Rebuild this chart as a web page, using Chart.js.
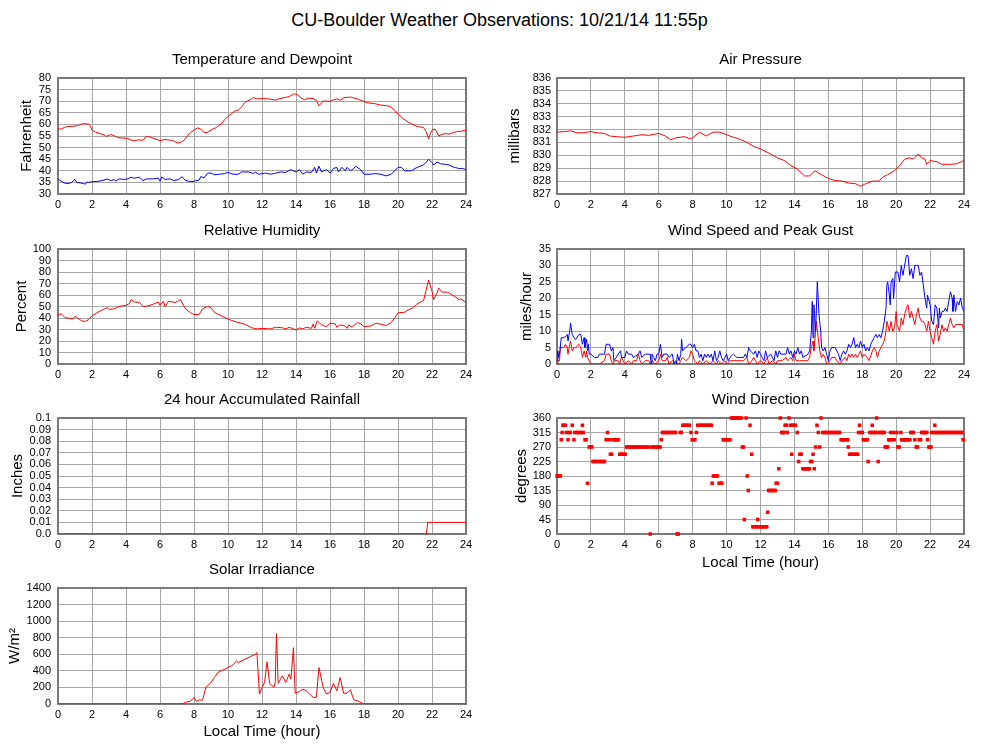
<!DOCTYPE html>
<html>
<head>
<meta charset="utf-8">
<title>CU-Boulder Weather Observations</title>
<script src="https://cdn.jsdelivr.net/npm/chart.js@4.4.1/dist/chart.umd.min.js"></script>
<style>
    body { margin: 0; background: #fff; }
    #page { position: relative; width: 999px; height: 744px; overflow: hidden; font-family: 'Liberation Sans', Arial, sans-serif; }
    #page h1 { position: absolute; left: 0; top: 8px; width: 999px; margin: 0; text-align: center; font-size: 18px; font-weight: normal; line-height: 24px; color: #000; }
    canvas { position: absolute; }
</style>
</head>
<body>
<div id="page">
    <h1>CU-Boulder Weather Observations: 10/21/14 11:55p</h1>
    <canvas id="tempChart" width="480" height="169" style="left:0;top:50px"></canvas>
    <canvas id="pressureChart" width="480" height="169" style="left:500px;top:50px"></canvas>
    <canvas id="humidityChart" width="480" height="168" style="left:0;top:221px"></canvas>
    <canvas id="windChart" width="480" height="168" style="left:500px;top:221px"></canvas>
    <canvas id="rainChart" width="480" height="169" style="left:0;top:390px"></canvas>
    <canvas id="dirChart" width="480" height="184" style="left:500px;top:390px"></canvas>
    <canvas id="solarChart" width="480" height="184" style="left:0;top:560px"></canvas>
</div>
<script>
// -------------------------------------------------------------------------- Document variables

let red = '#ff0000'
let blue = '#0000ff'
let gridGrey = '#a6a6a6'
let frameGrey = '#7a7a7a'
let font = "'Liberation Sans', Arial, sans-serif"

const hourTicks = [0, 2, 4, 6, 8, 10, 12, 14, 16, 18, 20, 22, 24]

// -------------------------------------------------------------------------- Data  [hour, value]

const temperature = [
    [0, 58], [0.2, 58], [0.4, 58.8], [0.6, 59.1], [1.0, 59.3], [1.2, 59.5], [1.4, 60.2], [1.6, 60.3],
    [1.8, 60.1], [1.9, 59.4], [2.0, 57.6], [2.2, 56.7], [2.5, 56], [2.7, 55.5], [2.85, 54.8], [3.1, 55.6],
    [3.3, 55.2], [3.5, 54.3], [3.8, 54.1], [4.1, 54], [4.3, 53.2], [4.5, 53], [4.7, 53.3], [5.0, 53.2],
    [5.2, 54.8], [5.4, 54.6], [5.7, 53.8], [6.0, 53], [6.3, 53.5], [6.6, 53.2], [6.8, 52.8], [7.0, 52],
    [7.2, 52.2], [7.4, 53], [7.6, 55], [7.8, 56.5], [8.0, 57.5], [8.2, 58.5], [8.4, 58], [8.6, 56.4],
    [8.8, 56.6], [9.0, 57.6], [9.3, 58.6], [9.6, 60.2], [9.8, 62], [10.0, 63.5], [10.2, 64.5], [10.4, 65.8],
    [10.6, 66], [10.8, 67.6], [11.0, 69.5], [11.3, 70.6], [11.5, 71.6], [11.7, 71], [12.0, 71.1], [12.4, 71],
    [12.8, 70.5], [13.0, 71], [13.3, 71.5], [13.6, 72], [13.9, 73.2], [14.1, 72.7], [14.3, 71.4], [14.5, 70.6],
    [14.7, 71.3], [15.0, 71.2], [15.2, 70.4], [15.35, 68], [15.6, 70.1], [16.0, 69.9], [16.2, 70.6], [16.4, 71],
    [16.6, 70.4], [16.8, 71.5], [17.2, 71.8], [17.6, 71], [17.9, 70.2], [18.2, 69.3], [18.6, 69], [19.0, 68.3],
    [19.4, 68], [19.6, 67.5], [19.8, 66], [20.0, 64.5], [20.3, 62.5], [20.6, 61], [20.9, 59.8], [21.2, 59],
    [21.5, 58.7], [21.65, 57], [21.8, 53.8], [21.9, 56], [22.05, 58], [22.2, 57.8], [22.4, 55], [22.6, 55.8],
    [22.8, 56], [23.0, 55.8], [23.2, 56.3], [23.5, 57], [23.7, 57], [24, 57.5]
]

const dewpoint = [
    [0, 36.5], [0.1, 36], [0.3, 35], [0.45, 34.6], [0.6, 34.5], [0.8, 35], [1.0, 36.3], [1.1, 35],
    [1.3, 34.8], [1.5, 34.5], [1.6, 34.2], [1.7, 35.2], [1.8, 35], [2.0, 35.3], [2.4, 35.5], [2.7, 36],
    [2.9, 36.5], [3.1, 35.8], [3.3, 36.2], [3.4, 35.6], [3.6, 36.5], [3.9, 36.3], [4.1, 36.5], [4.3, 37.3],
    [4.45, 36.8], [4.6, 37], [4.8, 37.2], [5.0, 35.8], [5.2, 36.5], [5.6, 36.5], [5.9, 36.8], [6.0, 35.5],
    [6.1, 37.3], [6.3, 36.3], [6.6, 36.5], [6.8, 35.8], [7.1, 36.2], [7.3, 37.5], [7.5, 35.8], [7.8, 35.3],
    [8.0, 35.5], [8.3, 36], [8.4, 37.5], [8.6, 37], [8.8, 39], [9.0, 39], [9.2, 38.3], [9.5, 38.5],
    [9.8, 38.8], [10.0, 39.3], [10.3, 38.5], [10.6, 38.5], [10.8, 39.5], [11.2, 39.5], [11.5, 38.8], [11.6, 39.5],
    [11.8, 38.5], [12.2, 39], [12.5, 38.5], [12.8, 39], [13.1, 39.5], [13.4, 39.3], [13.7, 40.5], [14.0, 39.5],
    [14.2, 40.5], [14.4, 38.5], [14.6, 39.5], [14.9, 39.3], [15.1, 41.5], [15.2, 39], [15.35, 42], [15.5, 39.5],
    [15.8, 40.5], [16.0, 39], [16.2, 41], [16.4, 41.5], [16.5, 39.5], [16.7, 41.5], [16.9, 40], [17.0, 41.5],
    [17.2, 40], [17.4, 41], [17.5, 42], [17.8, 40.5], [18.0, 38.5], [18.3, 38.5], [18.7, 38.8], [19.0, 38.5],
    [19.3, 37.8], [19.6, 38.5], [19.8, 40], [20.0, 41.5], [20.2, 41.5], [20.4, 40], [20.8, 40], [21.0, 41],
    [21.3, 42], [21.5, 42.5], [21.7, 44], [21.8, 45], [22.0, 43.5], [22.1, 42.5], [22.3, 43.8], [22.5, 43],
    [22.8, 42.8], [23.0, 42.5], [23.3, 41.5], [23.6, 41], [23.8, 41], [24, 40.5]
]

const pressure = [
    [0, 831.8], [0.5, 831.85], [0.8, 831.9], [1.2, 831.75], [1.6, 831.75], [2.0, 831.85], [2.3, 831.75], [2.8, 831.7],
    [3.1, 831.5], [3.5, 831.45], [4.0, 831.4], [4.5, 831.5], [5.0, 831.6], [5.4, 831.55], [5.8, 831.65], [6.0, 831.7],
    [6.4, 831.5], [6.7, 831.2], [7.0, 831.35], [7.5, 831.45], [7.8, 831.3], [8.0, 831.35], [8.4, 831.8], [8.8, 831.5],
    [9.2, 831.8], [9.6, 831.8], [10.0, 831.6], [10.4, 831.4], [10.7, 831.3], [11.2, 831.0], [11.6, 830.7], [12.0, 830.5],
    [12.6, 830.1], [13.0, 829.8], [13.4, 829.6], [13.8, 829.2], [14.2, 828.9], [14.6, 828.4], [14.9, 828.4], [15.2, 828.8],
    [15.6, 828.5], [16.0, 828.2], [16.4, 828.05], [16.8, 828.0], [17.2, 827.85], [17.6, 827.8], [17.9, 827.6], [18.2, 827.8],
    [18.6, 828.0], [19.0, 828.0], [19.2, 828.3], [19.5, 828.5], [19.9, 828.8], [20.2, 829.2], [20.5, 829.7], [20.8, 829.8],
    [21.0, 829.7], [21.3, 830.1], [21.5, 829.8], [21.7, 829.7], [21.8, 829.3], [22.0, 829.6], [22.4, 829.5], [22.7, 829.3],
    [23.2, 829.3], [23.6, 829.35], [24, 829.6]
]

const humidity = [
    [0, 43], [0.2, 43.5], [0.4, 40.5], [0.7, 39.5], [0.9, 39.5], [1.0, 41.5], [1.2, 39.5], [1.4, 37.5],
    [1.6, 37], [1.8, 38.5], [2.0, 42], [2.3, 44.5], [2.6, 47], [2.9, 49], [3.0, 47.5], [3.3, 48],
    [3.6, 50], [4.0, 51], [4.2, 52.5], [4.3, 56], [4.5, 54], [4.8, 53.5], [5.0, 50], [5.3, 50.5],
    [5.6, 52], [5.9, 54], [6.0, 51], [6.2, 54.5], [6.3, 50], [6.5, 54.5], [6.9, 53.5], [7.1, 55],
    [7.2, 56], [7.5, 48], [7.8, 44.5], [8.0, 43], [8.3, 43], [8.5, 48], [8.8, 50], [9.0, 49],
    [9.2, 45], [9.6, 42], [10.0, 39], [10.5, 36.5], [11.0, 34.5], [11.4, 31.5], [11.7, 30.5], [12.0, 31],
    [12.5, 30.5], [12.8, 32], [13.2, 31.5], [13.4, 30.5], [13.6, 32], [14.0, 29.5], [14.2, 31.5], [14.4, 30.5],
    [14.6, 32], [14.9, 31], [15.0, 34.5], [15.1, 31], [15.25, 37.5], [15.5, 34], [15.8, 32.5], [16.0, 35.5],
    [16.3, 35], [16.4, 32], [16.6, 34], [16.9, 33], [17.0, 31], [17.1, 34], [17.3, 32], [17.6, 36],
    [17.8, 35], [18.0, 32.5], [18.4, 33], [18.7, 35.5], [19.0, 34.5], [19.3, 33.5], [19.6, 36], [19.8, 40],
    [20.0, 44.5], [20.4, 45], [20.6, 47], [20.9, 49], [21.1, 52], [21.4, 54.5], [21.5, 55], [21.65, 64],
    [21.8, 73], [22.0, 63], [22.1, 56], [22.3, 62], [22.4, 66], [22.6, 62.5], [22.9, 62.5], [23.1, 61],
    [23.3, 59], [23.6, 56], [23.7, 56.5], [23.9, 54.5], [24, 53]
]

const windGust = [
    [0, 1], [0.05, 4], [0.1, 2], [0.15, 3], [0.25, 8], [0.4, 8], [0.55, 8.5], [0.6, 9], [0.65, 7],
    [0.75, 10], [0.8, 12.5], [0.9, 9], [1.0, 8], [1.1, 7.5], [1.3, 9], [1.4, 9], [1.5, 6], [1.6, 8],
    [1.65, 5], [1.75, 7.5], [1.8, 4], [1.85, 6], [1.9, 3], [2.0, 3], [2.2, 2], [2.4, 2], [2.5, 3],
    [2.8, 3], [2.9, 6], [3.1, 6], [3.2, 4], [3.3, 5], [3.35, 1], [3.5, 2], [3.6, 3], [3.75, 4],
    [3.8, 2], [4.0, 2], [4.1, 4], [4.2, 3], [4.4, 3], [4.5, 2], [4.8, 3], [4.9, 4], [5.0, 2],
    [5.2, 3], [5.5, 3], [5.55, 0], [5.6, 3], [5.7, 2], [5.8, 1], [5.9, 3], [6.0, 3], [6.1, 6],
    [6.2, 2], [6.3, 3], [6.5, 3], [6.6, 2], [6.8, 3], [6.9, 0], [7.0, 1], [7.05, 0], [7.1, 3],
    [7.2, 1], [7.3, 3], [7.35, 7.5], [7.4, 4], [7.6, 5], [7.8, 6], [7.9, 6], [8.0, 5], [8.1, 6],
    [8.2, 4], [8.3, 4], [8.4, 2], [8.5, 3], [8.6, 1], [8.7, 3], [8.8, 2], [8.9, 3], [9.0, 2],
    [9.1, 3], [9.2, 1], [9.3, 4], [9.4, 1], [9.5, 2], [9.6, 4], [9.7, 2], [9.8, 1], [9.9, 2],
    [10.0, 3], [10.1, 1], [10.2, 2], [10.4, 3], [10.6, 2], [11.0, 2], [11.1, 3], [11.2, 2], [11.3, 5],
    [11.4, 4], [11.6, 3], [11.7, 4], [11.8, 2], [11.9, 4], [12.0, 3], [12.1, 2], [12.2, 1], [12.3, 4],
    [12.4, 2], [12.6, 3], [12.8, 1], [12.9, 4], [13.0, 2], [13.1, 4], [13.2, 3], [13.5, 3], [13.6, 5],
    [13.7, 3], [13.8, 4], [13.9, 2], [14.0, 4], [14.1, 3], [14.2, 5], [14.3, 3], [14.4, 4], [14.5, 2],
    [14.8, 3], [14.9, 4], [15.0, 10], [15.05, 19], [15.1, 8], [15.15, 18], [15.25, 10], [15.35, 25], [15.45, 15],
    [15.55, 10], [15.6, 5], [15.7, 4], [15.8, 5], [15.9, 3], [16.0, 1], [16.1, 4], [16.2, 5], [16.4, 5],
    [16.6, 3], [16.7, 1], [16.8, 3], [16.9, 4], [17.0, 3], [17.1, 4], [17.2, 6], [17.3, 5], [17.4, 6],
    [17.5, 8], [17.6, 5], [17.7, 6], [17.8, 5], [17.9, 7], [18.0, 5], [18.1, 6], [18.2, 4], [18.3, 5],
    [18.4, 4], [18.5, 6], [18.7, 8], [18.8, 9], [18.9, 8], [19.0, 9], [19.1, 8], [19.2, 10], [19.3, 13],
    [19.4, 17], [19.45, 24], [19.5, 25], [19.6, 21], [19.65, 18], [19.7, 25], [19.8, 26], [19.85, 20], [19.95, 28],
    [20.1, 28], [20.2, 25], [20.3, 30], [20.4, 27], [20.5, 30], [20.6, 33], [20.7, 33], [20.8, 27], [20.9, 29],
    [21.0, 26], [21.1, 30], [21.2, 30], [21.3, 30], [21.4, 27], [21.5, 28], [21.6, 24], [21.7, 20], [21.8, 17],
    [21.85, 21], [21.9, 20], [22.0, 18], [22.1, 13], [22.2, 12], [22.3, 18], [22.4, 17], [22.5, 11], [22.55, 17],
    [22.6, 14], [22.7, 16], [22.8, 16], [22.9, 17], [23.0, 16], [23.1, 19], [23.2, 22], [23.3, 20], [23.35, 16],
    [23.4, 21], [23.5, 16], [23.6, 19], [23.7, 18], [23.8, 20], [23.9, 17], [24, 16]
]

const windSpeed = [
    [0, 0], [0.05, 1], [0.15, 1], [0.2, 5], [0.4, 5], [0.5, 6], [0.6, 5], [0.65, 3], [0.75, 6],
    [0.8, 7], [0.9, 4], [1.0, 5], [1.1, 5], [1.3, 6], [1.4, 5], [1.5, 2], [1.6, 4], [1.7, 2],
    [1.75, 4], [1.8, 2], [1.9, 1], [2.0, 0], [2.2, 0], [2.5, 0], [2.8, 1], [2.9, 3], [3.1, 3],
    [3.2, 1], [3.3, 0], [3.4, 1], [3.6, 1], [3.7, 0], [3.8, 2], [3.9, 1], [4.0, 0], [4.2, 1],
    [4.4, 0], [4.5, 1], [4.7, 1], [4.8, 3], [4.9, 1], [5.0, 0], [5.2, 1], [5.4, 1], [5.5, 0],
    [5.6, 1], [5.8, 0], [6.0, 1], [6.1, 3], [6.2, 1], [6.4, 1], [6.5, 2], [6.6, 0], [6.8, 1],
    [7.0, 0], [7.2, 0], [7.3, 1], [7.4, 2], [7.6, 1], [7.8, 2], [7.9, 4], [8.0, 3], [8.1, 1],
    [8.3, 0], [8.4, 1], [8.6, 0], [8.8, 1], [9.0, 0], [9.2, 1], [9.4, 0], [9.5, 1], [9.7, 0],
    [9.9, 1], [10.0, 0], [10.2, 1], [11.0, 1], [11.2, 2], [11.3, 0], [11.5, 1], [11.6, 2], [11.7, 1],
    [11.8, 0], [12.0, 1], [12.2, 0], [12.4, 2], [12.5, 0], [12.7, 1], [12.9, 0], [13.0, 1], [13.3, 1],
    [13.5, 2], [13.6, 1], [13.8, 2], [13.9, 1], [14.0, 3], [14.1, 1], [14.3, 1], [14.8, 1], [14.9, 2],
    [15.0, 5], [15.1, 7], [15.15, 4], [15.3, 13], [15.4, 8], [15.5, 4], [15.6, 2], [15.7, 3], [15.8, 2],
    [15.9, 0], [16.1, 1], [16.2, 2], [16.4, 2], [16.5, 1], [16.7, 0], [16.8, 1], [17.0, 2], [17.1, 1],
    [17.2, 3], [17.3, 2], [17.4, 3], [17.5, 2], [17.6, 3], [17.7, 2], [17.8, 3], [17.9, 4], [18.0, 2],
    [18.1, 3], [18.3, 2], [18.4, 1], [18.6, 4], [18.7, 5], [18.8, 4], [18.9, 2], [19.0, 4], [19.1, 5],
    [19.2, 6], [19.3, 7], [19.4, 10], [19.45, 13], [19.5, 12], [19.6, 10], [19.7, 13], [19.8, 10], [19.9, 11],
    [20.0, 16], [20.05, 12], [20.2, 10], [20.3, 14], [20.4, 12], [20.5, 15], [20.6, 17], [20.7, 18], [20.8, 14],
    [20.9, 16], [21.0, 14], [21.1, 12], [21.2, 15], [21.3, 17], [21.4, 14], [21.5, 13], [21.6, 13], [21.7, 12],
    [21.8, 10], [21.9, 13], [22.0, 10], [22.1, 8], [22.2, 6], [22.3, 10], [22.4, 12], [22.5, 7], [22.6, 9],
    [22.7, 12], [22.8, 10], [22.9, 11], [23.0, 10], [23.1, 12], [23.2, 14], [23.3, 12], [23.4, 11], [23.5, 12],
    [23.7, 12], [23.9, 12], [24, 10]
]

const rainfall = [
    [0, 0], [21.67, 0], [21.75, 0.01], [24, 0.01]
]

const windDirection = [
    [0.0, 180], [0.05, 180], [0.1, 180], [0.15, 180], [0.2, 180], [0.25, 292.5], [0.3, 315], [0.35, 337.5],
    [0.42, 337.5], [0.5, 337.5], [0.55, 315], [0.65, 292.5], [0.7, 315], [0.78, 315], [0.9, 337.5], [1.0, 292.5],
    [1.05, 315], [1.15, 315], [1.25, 315], [1.35, 315], [1.45, 315], [1.5, 337.5], [1.55, 315], [1.65, 292.5],
    [1.72, 292.5], [1.8, 157.5], [1.9, 270], [1.98, 270], [2.06, 270], [2.12, 225], [2.2, 225], [2.3, 225],
    [2.4, 225], [2.5, 225], [2.6, 225], [2.7, 225], [2.8, 225], [2.9, 292.5], [2.98, 315], [3.08, 292.5],
    [3.15, 247.5], [3.22, 247.5], [3.3, 292.5], [3.38, 292.5], [3.46, 292.5], [3.54, 292.5], [3.62, 292.5], [3.7, 247.5],
    [3.78, 247.5], [3.86, 247.5], [3.94, 247.5], [4.02, 247.5], [4.1, 270], [4.2, 270], [4.3, 270], [4.4, 270],
    [4.5, 270], [4.6, 270], [4.7, 270], [4.8, 270], [4.9, 270], [5.0, 270], [5.1, 270], [5.2, 270],
    [5.3, 270], [5.4, 270], [5.5, 0], [5.6, 270], [5.7, 270], [5.8, 270], [5.9, 270], [6.0, 270],
    [6.08, 270], [6.15, 292.5], [6.22, 315], [6.3, 315], [6.4, 315], [6.5, 315], [6.6, 315], [6.7, 315],
    [6.8, 315], [6.9, 315], [7.0, 315], [7.08, 0], [7.15, 0], [7.27, 315], [7.33, 315], [7.42, 337.5],
    [7.5, 337.5], [7.6, 337.5], [7.7, 337.5], [7.8, 337.5], [7.9, 315], [7.97, 292.5], [8.05, 292.5], [8.13, 292.5],
    [8.22, 315], [8.3, 337.5], [8.4, 337.5], [8.5, 337.5], [8.6, 337.5], [8.7, 337.5], [8.8, 337.5], [8.9, 337.5],
    [9.0, 337.5], [9.1, 337.5], [9.15, 157.5], [9.22, 180], [9.3, 180], [9.38, 180], [9.46, 180], [9.56, 157.5],
    [9.64, 157.5], [9.72, 157.5], [9.8, 292.5], [9.88, 292.5], [9.96, 292.5], [10.04, 292.5], [10.12, 292.5], [10.2, 292.5],
    [10.28, 360], [10.36, 360], [10.44, 360], [10.52, 360], [10.6, 360], [10.68, 360], [10.76, 360], [10.86, 360],
    [10.93, 270], [11.0, 270], [11.05, 45], [11.15, 360], [11.22, 180], [11.28, 135], [11.38, 337.5], [11.48, 247.5],
    [11.55, 22.5], [11.62, 22.5], [11.7, 22.5], [11.78, 22.5], [11.84, 45], [11.9, 22.5], [11.98, 22.5], [12.06, 22.5],
    [12.14, 22.5], [12.22, 22.5], [12.3, 22.5], [12.37, 22.5], [12.43, 67.5], [12.48, 135], [12.56, 135], [12.64, 135],
    [12.72, 135], [12.8, 135], [12.88, 135], [12.92, 157.5], [13.0, 157.5], [13.08, 202.5], [13.17, 360], [13.25, 315],
    [13.32, 315], [13.38, 315], [13.45, 337.5], [13.52, 337.5], [13.58, 315], [13.68, 360], [13.76, 337.5], [13.84, 247.5],
    [13.9, 337.5], [13.98, 337.5], [14.06, 337.5], [14.17, 315], [14.25, 225], [14.32, 247.5], [14.4, 247.5], [14.5, 202.5],
    [14.58, 202.5], [14.66, 202.5], [14.74, 202.5], [14.82, 202.5], [14.88, 202.5], [14.95, 225], [15.03, 225], [15.1, 247.5],
    [15.17, 202.5], [15.25, 270], [15.33, 337.5], [15.41, 315], [15.49, 270], [15.57, 360], [15.67, 315], [15.77, 315],
    [15.87, 315], [15.97, 315], [16.07, 315], [16.17, 315], [16.27, 315], [16.37, 315], [16.47, 315], [16.57, 315],
    [16.67, 315], [16.75, 292.5], [16.83, 292.5], [16.92, 292.5], [17.0, 292.5], [17.08, 292.5], [17.14, 292.5], [17.18, 270],
    [17.25, 247.5], [17.35, 247.5], [17.45, 247.5], [17.55, 247.5], [17.65, 247.5], [17.73, 247.5], [17.78, 315], [17.84, 337.5],
    [17.92, 315], [18.0, 315], [18.06, 292.5], [18.14, 292.5], [18.22, 292.5], [18.3, 292.5], [18.35, 225], [18.45, 315],
    [18.52, 315], [18.59, 337.5], [18.66, 315], [18.74, 315], [18.8, 315], [18.85, 360], [18.94, 225], [18.98, 315],
    [19.06, 315], [19.14, 315], [19.22, 315], [19.3, 315], [19.35, 270], [19.43, 270], [19.5, 270], [19.56, 292.5],
    [19.62, 292.5], [19.67, 315], [19.73, 292.5], [19.85, 315], [19.89, 292.5], [20.04, 315], [20.1, 270], [20.18, 270],
    [20.28, 315], [20.32, 292.5], [20.4, 292.5], [20.48, 292.5], [20.56, 292.5], [20.64, 292.5], [20.72, 292.5], [20.81, 292.5],
    [20.86, 315], [20.94, 315], [21.02, 315], [21.1, 292.5], [21.18, 270], [21.26, 270], [21.36, 292.5], [21.44, 292.5],
    [21.5, 315], [21.58, 315], [21.66, 315], [21.74, 315], [21.81, 315], [21.85, 292.5], [21.93, 270], [22.0, 270],
    [22.05, 270], [22.1, 315], [22.18, 315], [22.28, 337.5], [22.32, 315], [22.4, 315], [22.5, 315], [22.6, 315],
    [22.7, 315], [22.8, 315], [22.9, 315], [23.0, 315], [23.1, 315], [23.2, 315], [23.3, 315], [23.4, 315],
    [23.5, 315], [23.6, 315], [23.7, 315], [23.8, 315], [23.88, 315], [23.95, 292.5]
]

const solar = [
    [0, 0], [7.3, 0], [7.5, 20], [7.8, 35], [8.0, 80], [8.15, 30], [8.3, 50], [8.5, 45], [8.7, 200],
    [9.0, 260], [9.2, 320], [9.4, 380], [9.7, 410], [10.0, 440], [10.3, 470], [10.5, 520], [10.6, 500], [10.9, 530],
    [11.3, 570], [11.6, 600], [11.7, 620], [11.85, 120], [12.0, 200], [12.15, 260], [12.3, 510], [12.45, 250],
    [12.7, 200], [12.78, 260], [12.85, 850], [12.95, 250], [13.2, 340], [13.4, 260], [13.6, 360], [13.7, 300],
    [13.85, 680], [13.95, 130], [14.2, 150], [14.4, 180], [14.6, 160], [14.8, 120], [15.0, 80], [15.2, 80],
    [15.35, 440], [15.6, 200], [15.8, 120], [16.0, 140], [16.2, 250], [16.4, 160], [16.6, 320], [16.8, 130],
    [17.0, 130], [17.2, 170], [17.4, 50], [17.6, 40], [17.9, 10], [18.0, 0], [24, 0]
]

// -------------------------------------------------------------------------- Chart helpers

const toPoints = pairs => pairs.map(p => ({ x: p[0], y: p[1] }))

// grey box round the plot, drawn under the data like the original
const frame = {
    id: 'frame',
    beforeDatasetsDraw(chart) {
        const a = chart.chartArea
        const ctx = chart.ctx
        ctx.save()
        ctx.strokeStyle = frameGrey
        ctx.lineWidth = 2
        ctx.strokeRect(a.left, a.top, a.right - a.left, a.bottom - a.top)
        ctx.restore()
    }
}

function lineSet(pairs, colour) {
    return {
        data: toPoints(pairs),
        showLine: true,
        borderColor: colour,
        backgroundColor: colour,
        borderWidth: 1,
        pointRadius: 0,
        tension: 0
    }
}

function panel(id, opts) {
    return new Chart(document.getElementById(id), {
        type: 'scatter',
        data: { datasets: opts.datasets },
        plugins: [frame],
        options: {
            responsive: false,
            animation: false,
            devicePixelRatio: 1,
            layout: { padding: { left: 0, right: opts.right, top: 0, bottom: 0 } },
            plugins: {
                legend: { display: false },
                tooltip: { enabled: false },
                title: {
                    display: true,
                    text: opts.title,
                    fullSize: false,
                    color: '#000',
                    font: { family: font, size: 15, weight: 'normal' },
                    padding: { top: 1, bottom: 9 }
                }
            },
            scales: {
                x: {
                    type: 'linear',
                    min: 0,
                    max: 24,
                    afterBuildTicks: s => { s.ticks = hourTicks.map(v => ({ value: v })) },
                    afterFit: s => { s.height = opts.xHeight },
                    grid: { color: gridGrey, drawTicks: false },
                    border: { display: false },
                    ticks: { color: '#000', padding: 4, maxRotation: 0, autoSkip: false, font: { family: font, size: 11 } },
                    title: {
                        display: !!opts.xTitle,
                        text: opts.xTitle || '',
                        color: '#000',
                        font: { family: font, size: 15 },
                        padding: { top: 0, bottom: opts.xTitlePad || 0 }
                    }
                },
                y: {
                    min: opts.yMin,
                    max: opts.yMax,
                    afterBuildTicks: s => { s.ticks = opts.yTicks.map(v => ({ value: v })) },
                    afterFit: s => { s.width = opts.yWidth },
                    grid: { color: gridGrey, drawTicks: false },
                    border: { display: false },
                    ticks: {
                        color: '#000',
                        padding: opts.tickPad,
                        autoSkip: false,
                        font: { family: font, size: 11 },
                        callback: opts.tickFormat || (v => String(v))
                    },
                    title: {
                        display: true,
                        text: opts.yTitle,
                        color: '#000',
                        font: { family: font, size: 15 },
                        padding: { top: opts.yTitlePad, bottom: 0 }
                    }
                }
            }
        }
    })
}

// -------------------------------------------------------------------------- Render charts

let tempChart = panel('tempChart', {
    title: 'Temperature and Dewpoint',
    yTitle: 'Fahrenheit',
    yMin: 30, yMax: 80,
    yTicks: [30, 35, 40, 45, 50, 55, 60, 65, 70, 75, 80],
    yWidth: 58, right: 14, tickPad: 7, yTitlePad: 18, xHeight: 25,
    datasets: [lineSet(temperature, red), lineSet(dewpoint, blue)]
})

let pressureChart = panel('pressureChart', {
    title: 'Air Pressure',
    yTitle: 'millibars',
    yMin: 827, yMax: 836,
    yTicks: [827, 828, 829, 830, 831, 832, 833, 834, 835, 836],
    yWidth: 57, right: 16, tickPad: 6, yTitlePad: 6, xHeight: 25,
    datasets: [lineSet(pressure, red)]
})

let humidityChart = panel('humidityChart', {
    title: 'Relative Humidity',
    yTitle: 'Percent',
    yMin: 0, yMax: 100,
    yTicks: [0, 10, 20, 30, 40, 50, 60, 70, 80, 90, 100],
    yWidth: 58, right: 14, tickPad: 7, yTitlePad: 13, xHeight: 25,
    datasets: [lineSet(humidity, red)]
})

let windChart = panel('windChart', {
    title: 'Wind Speed and Peak Gust',
    yTitle: 'miles/hour',
    yMin: 0, yMax: 35,
    yTicks: [0, 5, 10, 15, 20, 25, 30, 35],
    yWidth: 57, right: 16, tickPad: 6, yTitlePad: 18, xHeight: 25,
    datasets: [lineSet(windGust, blue), lineSet(windSpeed, red)]
})

let rainChart = panel('rainChart', {
    title: '24 hour Accumulated Rainfall',
    yTitle: 'Inches',
    yMin: 0, yMax: 0.1,
    yTicks: [0, 0.01, 0.02, 0.03, 0.04, 0.05, 0.06, 0.07, 0.08, 0.09, 0.1],
    tickFormat: v => (v === 0 ? '0.0' : v >= 0.1 ? '0.1' : v.toFixed(2)),
    yWidth: 58, right: 14, tickPad: 7, yTitlePad: 9, xHeight: 25,
    datasets: [lineSet(rainfall, red)]
})

let dirChart = panel('dirChart', {
    title: 'Wind Direction',
    yTitle: 'degrees',
    xTitle: 'Local Time (hour)',
    xTitlePad: 2,
    yMin: 0, yMax: 360,
    yTicks: [0, 45, 90, 135, 180, 225, 270, 315, 360],
    yWidth: 57, right: 16, tickPad: 6, yTitlePad: 13, xHeight: 40,
    datasets: [{
        data: toPoints(windDirection),
        showLine: false,
        clip: false,
        pointStyle: 'rect',
        pointRadius: 2.5,
        pointBorderWidth: 0,
        backgroundColor: red,
        borderColor: red
    }]
})

let solarChart = panel('solarChart', {
    title: 'Solar Irradiance',
    yTitle: 'W/m²',
    xTitle: 'Local Time (hour)',
    xTitlePad: 3,
    yMin: 0, yMax: 1400,
    yTicks: [0, 200, 400, 600, 800, 1000, 1200, 1400],
    yWidth: 58, right: 14, tickPad: 7, yTitlePad: 6, xHeight: 40,
    datasets: [lineSet(solar, red)]
})
</script>
</body>
</html>
